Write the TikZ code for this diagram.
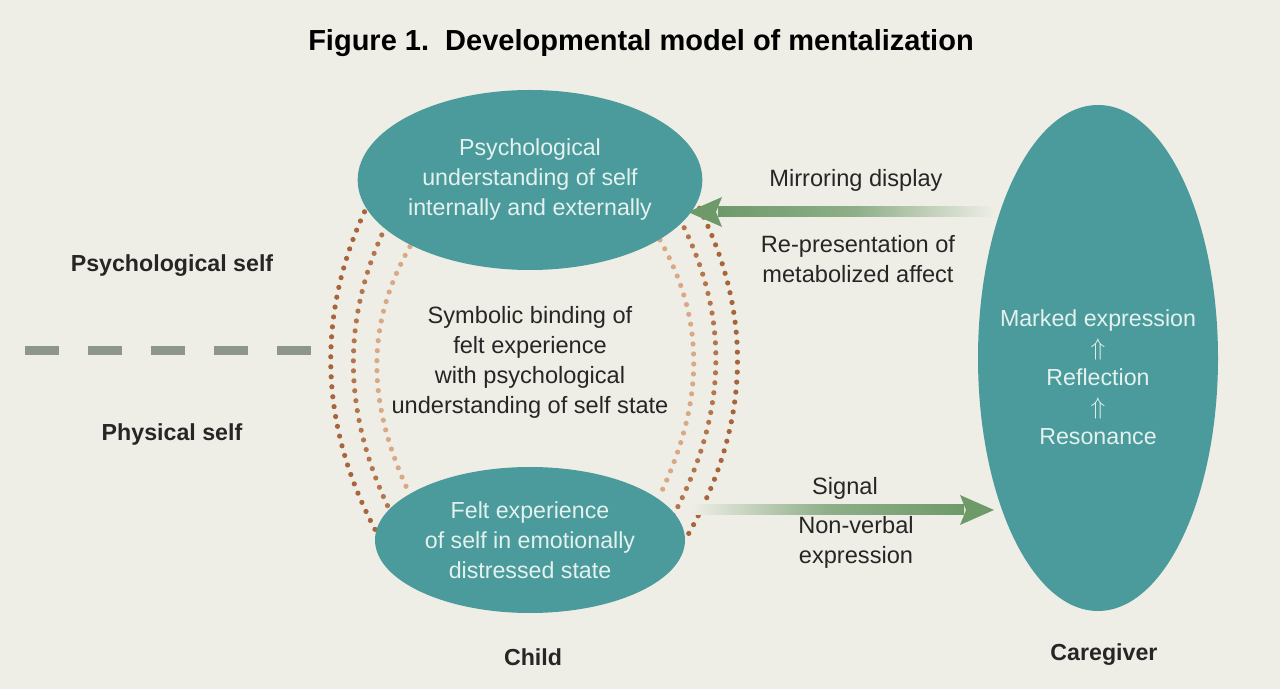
\documentclass[tikz,border=0pt]{standalone}
\usepackage{fontspec}
\setmainfont{Liberation Sans}
\usetikzlibrary{shapes.geometric}
\begin{document}
\definecolor{bg}{HTML}{EFEEE6}
\definecolor{teal}{HTML}{4B9A9C}
\definecolor{lt}{HTML}{E4F2EF}
\definecolor{brownD}{HTML}{A8643A}
\definecolor{brownL}{HTML}{D9A986}
\definecolor{grn}{HTML}{6E9A6A}
\definecolor{dashc}{HTML}{8E968C}
\begin{tikzpicture}[x=0.5pt,y=-0.5pt,
  ell/.style={ellipse,fill=teal,draw=none,text=lt,align=center,font=\fontsize{11.6}{15}\selectfont,inner sep=0pt},
  lab/.style={align=center,font=\fontsize{11.8}{15}\selectfont,text=black!85},
  blab/.style={font=\bfseries\fontsize{11.6}{13}\selectfont,text=black!85},
  dots/.style={line width=2.6pt,line cap=round,dash pattern=on 0pt off 5pt}]
\fill[bg] (0,0) rectangle (1280,689);
\useasboundingbox (0,0) rectangle (1280,689);
\node[font=\bfseries\fontsize{14.5}{16}\selectfont] (title) at (641,43) {Figure 1.\ \ Developmental model of mentalization};
% dotted arcs
\draw[dots,draw=brownD] (378,185) .. controls (315,300) and (315,420) .. (378,535);
\draw[dots,draw=brownD!75!brownL] (395,208) .. controls (340,310) and (340,410) .. (392,515);
\draw[dots,draw=brownL] (415,238) .. controls (365,320) and (365,400) .. (410,495);
\draw[dots,draw=brownD] (685,182) .. controls (755,300) and (755,420) .. (685,540);
\draw[dots,draw=brownD!75!brownL] (675,210) .. controls (730,310) and (730,410) .. (672,518);
\draw[dots,draw=brownL] (660,240) .. controls (705,320) and (705,400) .. (660,495);
\node[ell,minimum width=155pt,minimum height=90pt] (psy) at (530,180) {Psychological\\understanding of self\\internally and externally};
\node[ell,minimum width=155pt,minimum height=73pt] (felt) at (530,540) {Felt experience\\of self in emotionally\\distressed state};
\node[ell,minimum width=120pt,minimum height=253pt] (care) at (1098,358) {};
\node[lab,text=lt,font=\fontsize{11.6}{14.7}\selectfont] (ctext) at (1098,377) {Marked expression\\$\Uparrow$\\Reflection\\$\Uparrow$\\Resonance};
% arrows
\coordinate (mT) at (688,212);
\shade[left color=grn,right color=bg,middle color=grn!75!bg] (718,207) rectangle (995,217);
\fill[grn] (mT) -- (722,197) -- (716,212) -- (722,227) -- cycle;
\coordinate (sT) at (994,510);
\shade[left color=bg,right color=grn,middle color=grn!75!bg] (690,505) rectangle (964,515);
\fill[grn] (sT) -- (960,495) -- (966,510) -- (960,525) -- cycle;
\node[lab] (mir) at (856,180) {Mirroring display};
\node[lab] (rep) at (858,259) {Re-presentation of\\metabolized affect};
\node[lab] (sig) at (845,488) {Signal};
\node[lab] (nv) at (856,542) {Non-verbal\\expression};
\node[lab] (sym) at (530,362) {Symbolic binding of\\felt experience\\with psychological\\understanding of self state};
\node[blab] (ps) at (172,266) {Psychological self};
\node[blab] (phs) at (172,435) {Physical self};
\node[blab] (child) at (533,657) {Child};
\node[blab] (cg) at (1104,655) {Caregiver};
\coordinate (d1) at (25,351); \coordinate (d2) at (320,351);
\draw[line width=4.5pt,color=dashc,dash pattern=on 17pt off 14.5pt] (d1) -- (d2);
\end{tikzpicture}
\end{document}
